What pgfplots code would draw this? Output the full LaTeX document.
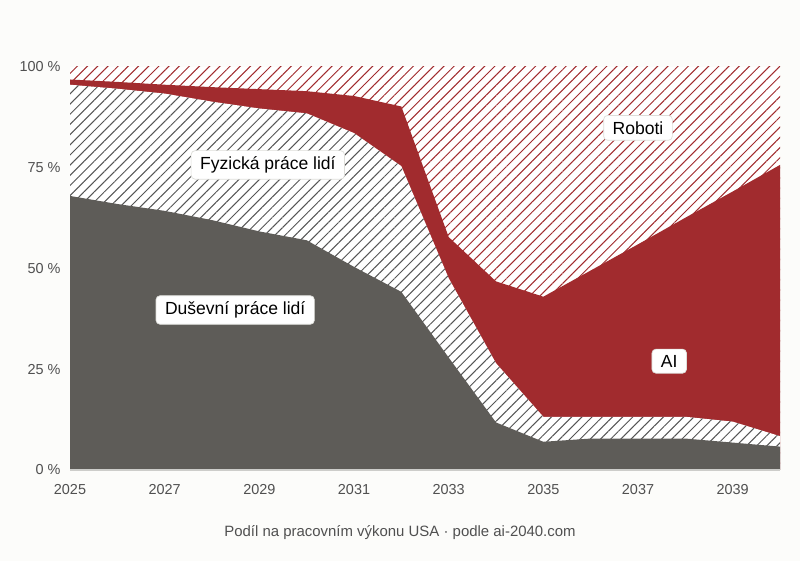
\documentclass[border=0pt]{standalone}
\usepackage{pgfplots}
\pgfplotsset{compat=1.18}
\usetikzlibrary{patterns.meta}
\usepackage{fontspec}
\setmainfont{Liberation Sans}
\definecolor{bg}{RGB}{252,252,250}
\definecolor{mental}{RGB}{94,92,88}
\definecolor{aired}{RGB}{161,43,46}
\definecolor{hatchgray}{RGB}{85,85,85}
\definecolor{tickgray}{RGB}{80,80,80}
\definecolor{axisgray}{RGB}{205,205,202}
\definecolor{boxborder}{RGB}{222,222,218}
\tikzset{lbl/.style={fill=white, draw=boxborder, line width=0.7bp, rounded corners=4bp,
    inner xsep=9bp, inner ysep=6bp, font=\fontsize{17.6}{20}\selectfont, text=black}}

\begin{document}
\begin{tikzpicture}[x=1bp,y=1bp]
\fill[bg] (0,0) rectangle (800,561);
\begin{axis}[
  at={(70bp,91bp)}, anchor=south west,
  scale only axis, width=710bp, height=403bp,
  xmin=2025, xmax=2040, ymin=0, ymax=100,
  axis x line*=bottom, axis y line*=left,
  y axis line style={draw=none},
  x axis line style={draw=axisgray, line width=1.2bp},
  axis on top,
  xtick={2025,2027,2029,2031,2033,2035,2037,2039},
  xticklabels={2025,2027,2029,2031,2033,2035,2037,2039},
  ytick={0,25,50,75,100},
  yticklabels={0 \%,25 \%,50 \%,75 \%,100 \%},
  major tick length=0pt,
  ticklabel style={font=\fontsize{14.5}{16}\selectfont, text=tickgray},
  yticklabel style={xshift=-6bp},
  xticklabel style={yshift=-11bp},
]
% Roboti (top layer, up to 100 %)
\addplot[fill=white, draw=none,
  postaction={pattern color=aired, pattern={Lines[angle=45,distance=7.2bp,line width=1bp]}}]
  coordinates {(2025,100) (2040,100)} \closedcycle;
% AI (cumulative top)
\addplot[fill=aired, draw=none] coordinates {
 (2025,96.9) (2026,96.3) (2027,95.6) (2028,95.0) (2029,94.5) (2030,94.0)
 (2031,92.8) (2032,90.2) (2033,57.8) (2034,46.8) (2035,43.0) (2036,49.5)
 (2037,56.0) (2038,62.6) (2039,69.1) (2040,75.7)} \closedcycle;
% Fyzicka prace lidi (cumulative top)
\addplot[fill=white, draw=none,
  postaction={pattern color=hatchgray, pattern={Lines[angle=45,distance=7.2bp,line width=1bp]}}]
  coordinates {
 (2025,95.6) (2026,94.6) (2027,93.4) (2028,91.4) (2029,89.7) (2030,88.5)
 (2031,83.6) (2032,75.4) (2033,47.6) (2034,26.5) (2035,13.2) (2036,13.2)
 (2037,13.2) (2038,13.2) (2039,12.0) (2040,8.4)} \closedcycle;
% Dusevni prace lidi
\addplot[fill=mental, draw=none] coordinates {
 (2025,68.0) (2026,66.0) (2027,64.3) (2028,62.0) (2029,59.2) (2030,57.0)
 (2031,50.4) (2032,44.2) (2033,27.9) (2034,11.8) (2035,7.0) (2036,7.8)
 (2037,7.8) (2038,7.8) (2039,6.8) (2040,5.8)} \closedcycle;

\node[lbl] at (axis cs:2029.18,75.7) {Fyzická práce lidí};
\node[lbl] at (axis cs:2037.0,84.9) {Roboti};
\node[lbl] at (axis cs:2028.49,39.7) {Duševní práce lidí};
\node[lbl] at (axis cs:2037.66,27.0) {AI};
\end{axis}
\node[font=\fontsize{15}{17}\selectfont, text=tickgray] at (400,28) {Podíl na pracovním výkonu USA · podle ai-2040.com};
\end{tikzpicture}
\end{document}
